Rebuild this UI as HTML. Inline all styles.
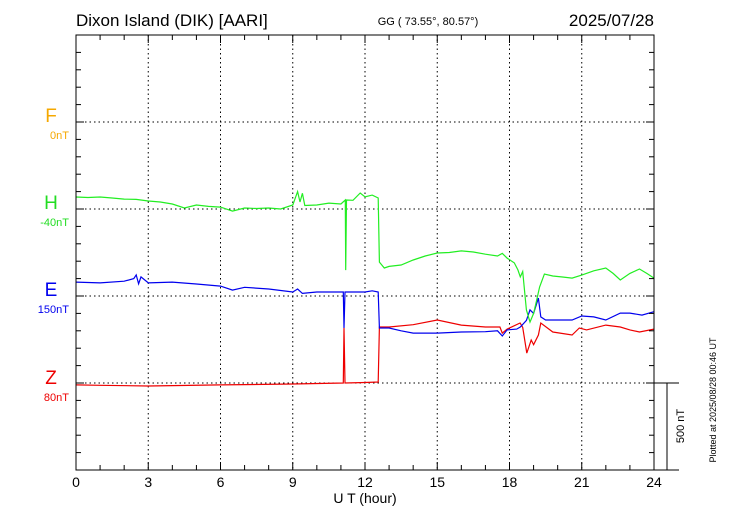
<!DOCTYPE html>
<html><head><meta charset="utf-8"><style>
body{margin:0;background:#fff;}
svg{display:block;font-family:"Liberation Sans",sans-serif;}
</style></head><body>
<svg id="chart" width="730" height="520" viewBox="0 0 730 520">
<text x="76" y="26" font-size="17">Dixon Island (DIK)  [AARI]</text>
<text x="428" y="25" font-size="11" text-anchor="middle">GG ( 73.55°,  80.57°)</text>
<text x="654" y="26" font-size="17" text-anchor="end">2025/07/28</text>
<g id="grid"></g>
<g id="series"></g>
<rect x="76" y="35" width="578" height="435" fill="none" stroke="#000" stroke-width="1"/>
<g id="axes"></g>
<text x="51" y="122" font-size="19" fill="#f5a800" text-anchor="middle">F</text>
<text x="69" y="139" font-size="11" fill="#f5a800" text-anchor="end">0nT</text>
<text x="51" y="209" font-size="19" fill="#22dd22" text-anchor="middle">H</text>
<text x="69" y="226" font-size="11" fill="#22dd22" text-anchor="end">-40nT</text>
<text x="51" y="296" font-size="19" fill="#0000ee" text-anchor="middle">E</text>
<text x="69" y="313" font-size="11" fill="#0000ee" text-anchor="end">150nT</text>
<text x="51" y="384" font-size="19" fill="#ee0000" text-anchor="middle">Z</text>
<text x="69" y="401" font-size="11" fill="#ee0000" text-anchor="end">80nT</text>
<text x="365" y="503" font-size="14" text-anchor="middle">U T (hour)</text>
<line x1="654" y1="383" x2="679" y2="383" stroke="#000"/>
<line x1="654" y1="470" x2="679" y2="470" stroke="#000"/>
<line x1="667" y1="383" x2="667" y2="470" stroke="#000"/>
<text transform="translate(684,426) rotate(-90)" font-size="11" text-anchor="middle">500 nT</text>
<text transform="translate(716,400) rotate(-90)" font-size="9" text-anchor="middle">Plotted at 2025/08/28 00:46 UT</text>
</svg>
<script>
const xTicks=[0,3,6,9,12,15,18,21,24];
const xTickLabels=["0","3","6","9","12","15","18","21","24"];
const hGreen=[[0,1569],[0.5,1566],[1,1569],[1.5,1563],[2,1557],[2.5,1555],[3,1546],[3.5,1540],[4,1529],[4.5,1506],[5,1523],[5.5,1515],[6,1511],[6.5,1488],[7,1506],[7.5,1503],[8,1506],[8.5,1500],[9,1523],[9.2,1600],[9.3,1540],[9.4,1590],[9.5,1520],[10,1523],[10.5,1534],[11,1529],[11.18,1552],[11.2,1149],[11.23,1552],[11.5,1550],[11.8,1592],[12,1570],[12.3,1580],[12.55,1563],[12.6,1195],[12.8,1161],[13,1170],[13.5,1178],[14,1207],[14.5,1230],[15,1247],[15.5,1250],[16,1259],[16.5,1253],[17,1240],[17.5,1230],[17.7,1245],[17.9,1218],[18.2,1190],[18.35,1150],[18.45,1110],[18.55,1140],[18.7,920],[18.85,850],[19.0,900],[19.1,960],[19.25,1052],[19.45,1126],[19.8,1115],[20.2,1109],[20.6,1103],[21.0,1120],[21.5,1145],[22.0,1161],[22.3,1130],[22.6,1092],[23.0,1130],[23.4,1155],[23.7,1130],[24,1103]];
const eBlue=[[0,1080],[1,1075],[2,1085],[2.4,1100],[2.5,1121],[2.6,1070],[2.7,1110],[3,1075],[4,1080],[5,1069],[6,1057],[6.5,1034],[7,1050],[8,1040],[9,1023],[9.2,1040],[9.4,1015],[10,1023],[11.1,1023],[11.13,816],[11.17,1023],[12,1023],[12.3,1030],[12.55,1023],[12.6,816],[13,816],[13.5,800],[14,787],[15,787],[16,793],[17,795],[17.5,800],[17.7,770],[17.9,805],[18.3,810],[18.45,822],[18.7,860],[18.85,920],[19.0,900],[19.2,988],[19.3,880],[19.5,862],[20,862],[20.6,862],[21,885],[21.5,880],[22,862],[22.6,902],[23,902],[23.5,890],[24,910]];
const zRed=[[0,489],[1,487],[3,483],[6,489],[9,494],[11.1,500],[11.13,816],[11.17,500],[12,503],[12.55,506],[12.6,822],[13,822],[14,835],[15,862],[16,833],[17,822],[17.6,822],[17.7,787],[17.9,810],[18.44,845],[18.55,820],[18.72,672],[18.9,747],[19.0,720],[19.2,776],[19.3,845],[19.8,793],[20.6,776],[20.9,816],[21.2,805],[22.0,833],[22.6,822],[23.0,805],[23.4,793],[24,810]];
const yGridValues=[500,1000,1500,2000];
const NS="http://www.w3.org/2000/svg";
const X0=76,X1=654,Y0=470,Y1=35;
function xs(h){return X0+(X1-X0)*h/24;}
function ys(v){return Y0-(Y0-Y1)*v/2500;}
function mk(tag,attrs,parent){const e=document.createElementNS(NS,tag);for(const k in attrs)e.setAttribute(k,attrs[k]);parent.appendChild(e);return e;}
const grid=document.getElementById('grid'),axes=document.getElementById('axes'),ser=document.getElementById('series');
xTicks.forEach((t,i)=>{
  if(t>0&&t<24){const l=mk('line',{x1:xs(t),x2:xs(t),y1:Y1,y2:Y0,stroke:'#000','stroke-dasharray':'1.5,3'},grid);
  
  }
  const tx=mk('text',{x:xs(t),y:487,'font-size':14,'text-anchor':'middle'},axes);tx.textContent=xTickLabels[i];
  
  
});
yGridValues.forEach(v=>{const l=mk('line',{x1:X0,x2:X1,y1:ys(v),y2:ys(v),stroke:'#000','stroke-dasharray':'1.5,3'},grid);
  
  });
for(let h=1;h<24;h++){
  const a=mk('line',{x1:xs(h),x2:xs(h),y1:Y1,y2:Y1+(h%3?5:8),stroke:'#000'},axes);
  
  
  const b=mk('line',{x1:xs(h),x2:xs(h),y1:Y0,y2:Y0-(h%3?5:8),stroke:'#000'},axes);
  
  
}
for(let v=100;v<2500;v+=100){
  const major=v%500===0;
  const a=mk('line',{x1:X0,x2:X0+(major?8:5),y1:ys(v),y2:ys(v),stroke:'#000'},axes);
  
  
  const b=mk('line',{x1:X1,x2:X1-(major?8:5),y1:ys(v),y2:ys(v),stroke:'#000'},axes);
  
  
}
function line(data,color,name){
  const d=data.map((p,i)=>(i?'L':'M')+xs(p[0]).toFixed(1)+','+ys(p[1]).toFixed(1)).join('');
  const p=mk('path',{d:d,fill:'none',stroke:color,'stroke-width':1.2},ser);
  
  
}
line(zRed,'#ee0000','z-series');
line(eBlue,'#0000ee','e-series');
line(hGreen,'#22ee22','h-series');
</script>
</body></html>
